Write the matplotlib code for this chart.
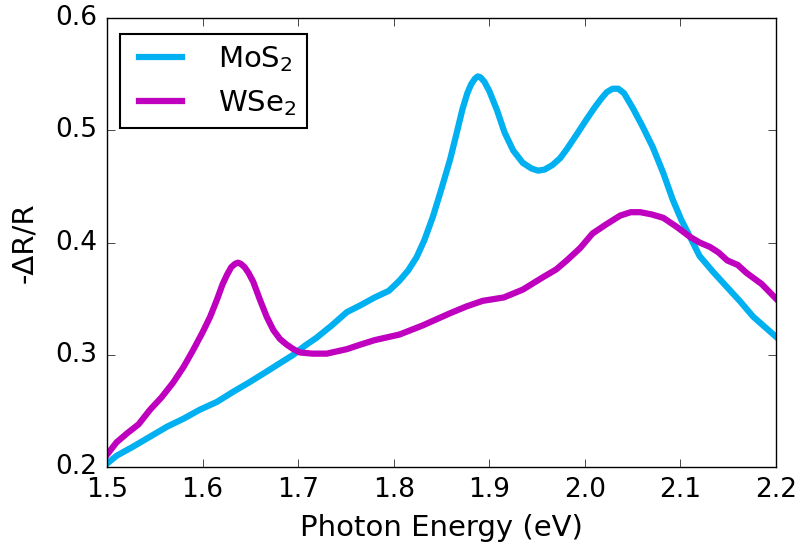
import matplotlib
matplotlib.use('Agg')
import matplotlib.pyplot as plt

# MoS2 reflectance contrast
mos2_x = [1.500, 1.510, 1.527, 1.545, 1.563, 1.580, 1.597, 1.615, 1.632, 1.650,
          1.667, 1.680, 1.695, 1.707, 1.719, 1.735, 1.751, 1.765, 1.780, 1.795,
          1.806, 1.815, 1.824, 1.832, 1.841, 1.850, 1.859, 1.866, 1.872, 1.877,
          1.881, 1.885, 1.888, 1.891, 1.895, 1.900, 1.908, 1.916, 1.925, 1.935,
          1.944, 1.951, 1.958, 1.966, 1.974, 1.981, 1.992, 2.002, 2.010, 2.017,
          2.023, 2.029, 2.035, 2.041, 2.050, 2.060, 2.071, 2.082, 2.092, 2.101,
          2.110, 2.120, 2.134, 2.149, 2.162, 2.176, 2.188, 2.200]
mos2_y = [0.203, 0.210, 0.218, 0.227, 0.236, 0.243, 0.251, 0.258, 0.267, 0.276,
          0.285, 0.292, 0.300, 0.308, 0.315, 0.326, 0.338, 0.344, 0.351, 0.357,
          0.366, 0.375, 0.387, 0.402, 0.423, 0.448, 0.474, 0.498, 0.519, 0.533,
          0.541, 0.546, 0.548, 0.547, 0.543, 0.535, 0.518, 0.498, 0.482, 0.471,
          0.466, 0.464, 0.465, 0.469, 0.475, 0.483, 0.497, 0.510, 0.520, 0.528,
          0.534, 0.537, 0.537, 0.533, 0.520, 0.504, 0.485, 0.462, 0.438, 0.420,
          0.405, 0.388, 0.374, 0.360, 0.348, 0.334, 0.325, 0.316]

# WSe2 reflectance contrast
wse2_x = [1.500, 1.510, 1.521, 1.533, 1.545, 1.557, 1.569, 1.580, 1.590, 1.600,
          1.608, 1.615, 1.621, 1.626, 1.630, 1.634, 1.637, 1.640, 1.644, 1.648,
          1.653, 1.660, 1.667, 1.674, 1.681, 1.688, 1.695, 1.702, 1.715, 1.730,
          1.751, 1.765, 1.780, 1.806, 1.830, 1.859, 1.876, 1.893, 1.915, 1.935,
          1.956, 1.970, 1.981, 1.995, 2.008, 2.022, 2.037, 2.048, 2.058, 2.070,
          2.082, 2.096, 2.110, 2.120, 2.131, 2.140, 2.149, 2.160, 2.169, 2.185,
          2.200]
wse2_y = [0.211, 0.222, 0.230, 0.238, 0.251, 0.262, 0.275, 0.289, 0.304, 0.320,
          0.334, 0.349, 0.363, 0.372, 0.378, 0.381, 0.382, 0.381, 0.378, 0.373,
          0.365, 0.349, 0.334, 0.322, 0.314, 0.309, 0.305, 0.302, 0.301, 0.301,
          0.305, 0.309, 0.313, 0.318, 0.326, 0.337, 0.343, 0.348, 0.351, 0.358,
          0.369, 0.376, 0.384, 0.395, 0.408, 0.416, 0.424, 0.427, 0.427, 0.425,
          0.422, 0.414, 0.405, 0.400, 0.396, 0.391, 0.384, 0.380, 0.373, 0.363,
          0.350]

plt.style.use('classic')
fig = plt.figure(figsize=(8.01, 5.46), dpi=100)
ax = fig.add_axes([0.1336, 0.1447, 0.8352, 0.8223])

ax.plot(mos2_x, mos2_y, color='#00b0f0', lw=4.5, label=r'$\mathregular{MoS_2}$')
ax.plot(wse2_x, wse2_y, color='#bf00bf', lw=4.5, label=r'$\mathregular{WSe_2}$')

ax.set_xlim(1.5, 2.2)
ax.set_ylim(0.2, 0.6)
ax.set_xticks([1.5, 1.6, 1.7, 1.8, 1.9, 2.0, 2.1, 2.2])
ax.set_yticks([0.2, 0.3, 0.4, 0.5, 0.6])
ax.tick_params(labelsize=19, length=6, direction='in', top=True, right=True, pad=7)
ax.set_xlabel('Photon Energy (eV)', fontsize=21, labelpad=8)
ax.set_ylabel('-ΔR/R', fontsize=21, labelpad=12)

leg = ax.legend(loc='upper left', bbox_to_anchor=(0.02, 0.965), fontsize=21,
                handlelength=2.05, borderpad=0.35, labelspacing=0.5,
                handletextpad=0.95, fancybox=False, borderaxespad=0.0)
leg.get_frame().set_edgecolor('black')
leg.get_frame().set_linewidth(1.5)

fig.savefig('out.png', dpi=100, facecolor='white')
